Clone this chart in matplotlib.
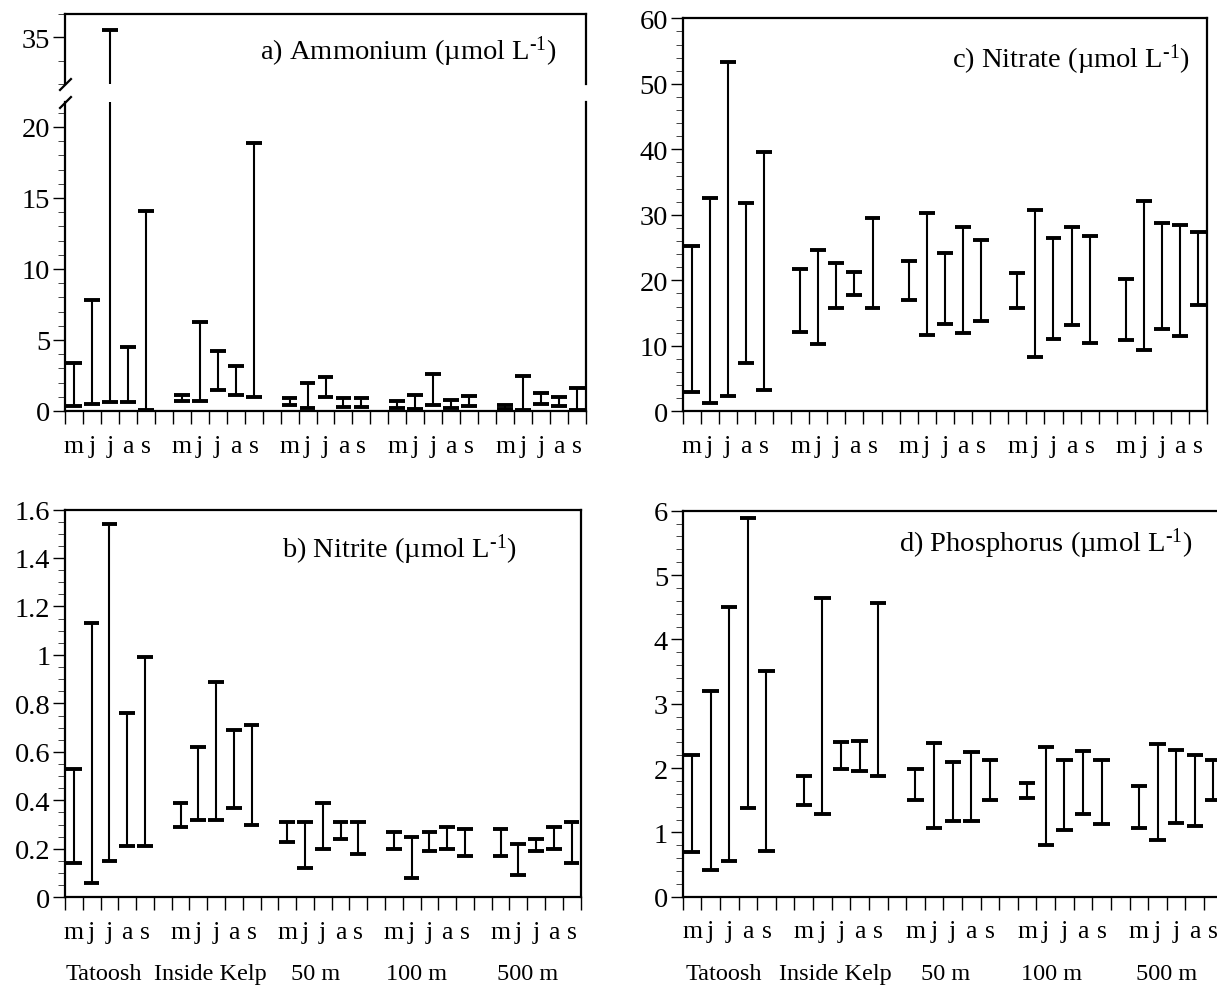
"""Range bars (min-max) of nutrients by site and month, four panels."""

import matplotlib
matplotlib.use("Agg")
import matplotlib.pyplot as plt
import numpy as np
from matplotlib.ticker import MultipleLocator, FuncFormatter, NullFormatter, FixedLocator

plt.rcParams["font.family"] = ["Liberation Serif", "DejaVu Serif"]
plt.rcParams["mathtext.fontset"] = "custom"
plt.rcParams["mathtext.rm"] = "Liberation Serif"
plt.rcParams["mathtext.it"] = "Liberation Serif:italic"

W, H = 1217, 987

MONTHS = ["m", "j", "j", "a", "s"]
SITES = ["Tatoosh", "Inside Kelp", "50 m", "100 m", "500 m"]
SITE_LABEL_X = [2.2, 8.2, 14.1, 19.8, 26.0]

# a) ammonium, per site: m j j a s
ammonium_hi = [3.4, 7.85, 35.3, 4.5, 14.1,
               1.1, 6.3, 4.25, 3.2, 18.85,
               0.92, 2.0, 2.4, 0.9, 0.9,
               0.7, 1.1, 2.6, 0.77, 1.06,
               0.42, 2.46, 1.3, 0.96, 1.62]
ammonium_lo = [0.38, 0.49, 0.66, 0.6, 0.1,
               0.68, 0.68, 1.48, 1.13, 1.01,
               0.42, 0.24, 1.01, 0.26, 0.26,
               0.21, 0.16, 0.42, 0.19, 0.38,
               0.14, 0.1, 0.52, 0.38, 0.1]

# b) nitrite
nitrite_hi = [0.53, 1.13, 1.54, 0.76, 0.99,
              0.39, 0.62, 0.89, 0.69, 0.71,
              0.31, 0.31, 0.39, 0.31, 0.31,
              0.27, 0.25, 0.27, 0.29, 0.28,
              0.28, 0.22, 0.24, 0.29, 0.31]
nitrite_lo = [0.14, 0.06, 0.15, 0.21, 0.21,
              0.29, 0.32, 0.32, 0.37, 0.30,
              0.23, 0.12, 0.20, 0.24, 0.18,
              0.20, 0.08, 0.19, 0.20, 0.17,
              0.17, 0.09, 0.19, 0.20, 0.14]

# c) nitrate
nitrate_hi = [25.3, 32.6, 53.4, 31.8, 39.6,
              21.8, 24.6, 22.6, 21.2, 29.5,
              22.9, 30.2, 24.1, 28.2, 26.2,
              21.1, 30.7, 26.4, 28.2, 26.7,
              20.2, 32.1, 28.8, 28.4, 27.4]
nitrate_lo = [3.0, 1.3, 2.4, 7.4, 3.2,
              12.1, 10.3, 15.8, 17.7, 15.8,
              17.0, 11.7, 13.4, 12.0, 13.8,
              15.8, 8.3, 11.1, 13.2, 10.5,
              10.9, 9.4, 12.6, 11.5, 16.3]

# d) phosphorus
phosphorus_hi = [2.21, 3.19, 4.5, 5.88, 3.51,
                 1.88, 4.65, 2.41, 2.42, 4.56,
                 1.99, 2.39, 2.09, 2.25, 2.12,
                 1.77, 2.33, 2.12, 2.26, 2.12,
                 1.72, 2.38, 2.28, 2.21, 2.12]
phosphorus_lo = [0.69, 0.42, 0.55, 1.38, 0.71,
                 1.43, 1.28, 1.99, 1.96, 1.87,
                 1.5, 1.07, 1.17, 1.17, 1.51,
                 1.54, 0.81, 1.04, 1.28, 1.13,
                 1.07, 0.88, 1.15, 1.1, 1.51]


def px_axes(fig, left, top, right, bottom):
    return fig.add_axes([left / W, 1 - bottom / H, (right - left) / W, (bottom - top) / H])


def bar_positions():
    return np.array([6 * g + k + 0.5 for g in range(len(SITES)) for k in range(len(MONTHS))])


def draw_ranges(ax, lo, hi):
    x = bar_positions()
    ax.vlines(x, lo, hi, color="black", lw=1.5)
    ax.hlines(lo, x - 0.44, x + 0.44, color="black", lw=2.8)
    ax.hlines(hi, x - 0.44, x + 0.44, color="black", lw=2.8)


def style_y(ax, major, minor):
    ax.yaxis.set_major_locator(MultipleLocator(major))
    ax.yaxis.set_minor_locator(MultipleLocator(minor))
    ax.yaxis.set_major_formatter(FuncFormatter(lambda v, _: f"{v:g}"))
    ax.tick_params(axis="y", which="major", direction="out", length=8.5, width=1.0,
                   pad=2, labelsize=20.5)
    ax.tick_params(axis="y", which="minor", direction="out", length=5, width=0.7,
                   color="#444444")
    for s in ax.spines.values():
        s.set_linewidth(1.6)


def style_x(ax):
    ax.set_xlim(0, 29)
    ax.xaxis.set_major_locator(MultipleLocator(1))
    ax.xaxis.set_major_formatter(NullFormatter())
    ax.xaxis.set_minor_locator(FixedLocator(bar_positions()))
    ax.set_xticklabels(MONTHS * len(SITES), minor=True)
    ax.tick_params(axis="x", which="major", direction="out", length=9, width=1.0)
    ax.tick_params(axis="x", which="minor", length=0, pad=17, labelsize=18.5)


def site_labels(ax):
    for x, name in zip(SITE_LABEL_X, SITES):
        ax.annotate(name, xy=(x, 0), xycoords=("data", "axes fraction"),
                    xytext=(0, -59), textcoords="offset points",
                    ha="center", va="baseline", fontsize=17.5)


def title(fig, text, right, baseline):
    fig.text(right / W, 1 - baseline / H, text, ha="right", va="baseline", fontsize=20.5)


def main():
    fig = plt.figure(figsize=(W / 100, H / 100), dpi=100)
    unit = r"(µmol L$^{\text{-1}}$)"

    # a) ammonium, broken y axis
    ax_top = px_axes(fig, 65, 15, 586, 85)
    ax_a = px_axes(fig, 65, 103, 586, 412)
    for ax in (ax_top, ax_a):
        draw_ranges(ax, ammonium_lo, ammonium_hi)
        ax.set_xlim(0, 29)
    ax_top.set_ylim(33, 36)
    style_y(ax_top, 5, 1)
    ax_top.yaxis.set_major_locator(FixedLocator([35]))
    ax_top.spines["bottom"].set_visible(False)
    ax_top.tick_params(axis="x", which="both", bottom=False, labelbottom=False)
    ax_a.set_ylim(0, 21.76)
    style_y(ax_a, 5, 1)
    style_x(ax_a)
    ax_a.spines["top"].set_visible(False)
    brk = dict(marker=[(-1, -1), (1, 1)], markersize=9, linestyle="none",
               color="black", mec="black", mew=1.6, clip_on=False)
    ax_top.plot([0], [0], transform=ax_top.transAxes, **brk)
    ax_a.plot([0], [1], transform=ax_a.transAxes, **brk)
    title(fig, "a) Ammonium " + unit, 557, 60)

    # c) nitrate
    ax_c = px_axes(fig, 682.5, 19.3, 1207.3, 412.3)
    draw_ranges(ax_c, nitrate_lo, nitrate_hi)
    ax_c.set_ylim(0, 60)
    style_y(ax_c, 10, 2)
    style_x(ax_c)
    title(fig, "c) Nitrate " + unit, 1190, 68)

    # b) nitrite
    ax_b = px_axes(fig, 65, 510.5, 580.5, 898.3)
    draw_ranges(ax_b, nitrite_lo, nitrite_hi)
    ax_b.set_ylim(0, 1.6)
    style_y(ax_b, 0.2, 0.05)
    style_x(ax_b)
    site_labels(ax_b)
    title(fig, "b) Nitrite " + unit, 517, 558)

    # d) phosphorus (panel runs past the right edge of the figure)
    ax_d = px_axes(fig, 682.7, 511.7, 682.7 + 540, 897.7)
    draw_ranges(ax_d, phosphorus_lo, phosphorus_hi)
    ax_d.set_ylim(0, 6)
    style_y(ax_d, 1, 0.2)
    style_x(ax_d)
    site_labels(ax_d)
    title(fig, "d) Phosphorus " + unit, 1192, 552)

    fig.savefig("out.png", dpi=100)


if __name__ == "__main__":
    main()
